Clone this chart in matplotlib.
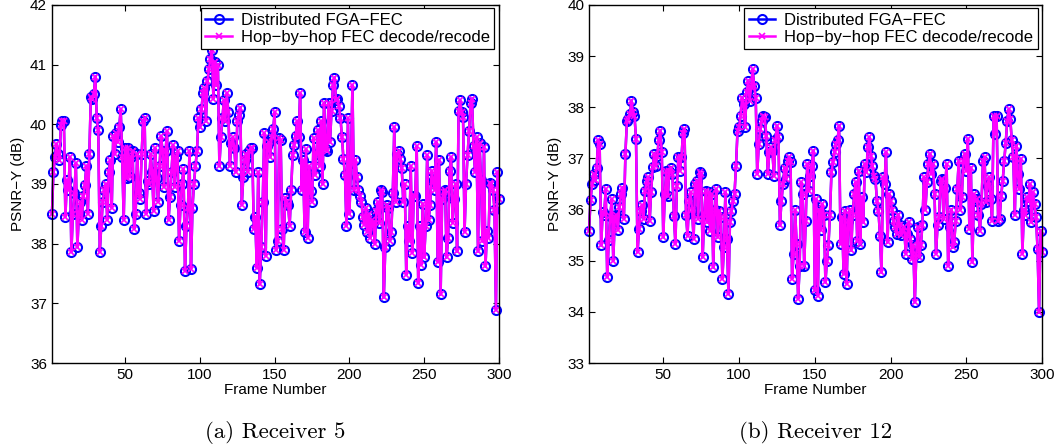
import numpy as np
import matplotlib
matplotlib.use('Agg')
import matplotlib.pyplot as plt

# PSNR-Y per frame, receiver 5
rx5_psnr = [
    38.5, 39.2, 39.45, 39.67, 39.5, 39.4, 39.98, 40.05, 40.05, 38.45,
    39.06, 38.9, 39.45, 37.86, 38.5, 38.85, 39.35, 37.94, 38.5, 38.7,
    38.4, 38.8, 38.98, 39.3, 38.5, 39.5, 40.45, 40.43, 40.5, 40.8,
    40.1, 39.9, 37.86, 38.3, 38.7, 38.9, 39.0, 38.4, 39.2, 39.4,
    38.6, 39.8, 39.5, 39.85, 39.7, 39.95, 40.25, 39.45, 38.4, 39.6,
    39.1, 39.6, 39.12, 39.45, 39.55, 38.25, 38.5, 39.5, 38.85, 38.75,
    39.5, 40.05, 40.1, 38.5, 39.05,
    39.0, 39.5, 39.2, 38.55, 39.6, 39.1, 38.7, 39.3,
    39.8, 39.55, 38.95, 39.55, 39.88, 38.4, 38.78, 39.2, 39.65, 38.95,
    39.45, 39.55, 38.05, 38.65, 39.0, 39.25, 37.55, 38.3, 38.6, 39.55,
    37.58, 38.6, 39.0, 39.3, 39.55, 40.1, 39.95, 40.25, 40.52, 40.6,
    40.05, 40.72, 40.92, 41.1, 41.25, 40.43, 41.05, 40.65, 41.0, 39.3,
    39.78, 40.1, 40.4, 40.05, 40.52, 40.2, 39.3, 39.68, 39.78, 39.6,
    39.2, 40.05, 40.15, 40.28, 38.65, 39.12,
    39.4, 39.5, 39.2, 39.55, 39.6, 39.6, 38.25, 38.45, 37.6, 39.2,
    37.32, 37.95, 38.7, 39.85, 37.8, 39.63, 39.7, 39.45, 39.78, 39.92,
    40.2, 37.9, 38.05, 39.77, 39.73, 38.25, 37.9, 38.77, 38.7, 38.65,
    38.3, 38.9, 39.48, 39.65, 39.8, 40.05, 39.78, 40.52, 38.9, 39.4,
    38.2, 39.58, 38.1, 39.3, 38.88, 38.7, 39.77, 39.15, 39.5, 39.9,
    39.3, 40.05, 39.0, 40.35, 39.58, 39.55, 40.35, 39.7, 40.22, 40.65,
    40.78, 40.4, 40.43, 40.3, 40.1, 39.78, 39.42, 39.15, 38.3, 40.1,
    38.5, 39.35, 40.65, 38.9, 39.4,
    39.12, 38.9, 38.8, 38.7, 38.45, 38.32, 38.6, 38.2, 38.5, 38.1,
    38.4, 38.35, 38.0, 38.55, 38.7, 38.35, 38.9, 38.87, 37.1, 37.95,
    38.65, 38.6, 38.05, 38.2, 38.85, 39.95, 38.7, 39.5, 39.55, 39.42,
    39.27, 38.7, 39.0, 37.48, 38.3, 38.05, 39.3, 37.85, 38.8, 38.8,
    39.63, 37.34, 38.3, 37.65, 38.67, 37.77, 38.3, 39.48, 38.4, 38.65,
    39.22, 39.05, 38.9, 39.7, 37.7, 39.4, 37.15, 38.75, 38.87, 38.9,
    37.77, 38.1, 39.22, 39.45, 38.35, 38.75, 39.0, 37.87, 40.22, 40.4,
    40.2, 40.13, 38.2, 39.0, 39.48, 39.88, 40.35, 40.43, 39.63, 39.2,
    39.78, 37.87,
    39.68, 39.07, 38.04, 39.62, 37.62, 38.22, 38.1, 39.02, 39.0, 38.9,
    38.57, 36.89, 39.2, 38.75,
]

# PSNR-Y per frame, receiver 12
rx12_psnr = [
    35.59, 36.19, 36.5, 36.7, 36.57, 36.82, 37.35, 37.28, 35.3, 35.95,
    35.9, 36.4, 34.68, 35.4, 35.88, 36.2, 35.0, 35.85, 35.9, 35.6,
    36.05, 36.3, 36.43, 35.82, 37.09, 37.74, 37.77, 37.87, 38.13, 37.9,
    37.83, 37.38, 35.17, 35.62, 35.98, 36.08, 35.82, 36.37, 36.56, 36.63,
    35.78, 36.34, 36.83, 37.09, 36.86, 37.05, 37.35, 37.54, 37.12, 35.46,
    36.3, 36.76, 36.27, 36.76, 36.82, 36.7, 35.88, 35.33, 36.47, 37.02,
    36.76, 37.02, 37.5, 37.57, 35.9, 35.49, 36.17, 36.34, 36.0, 35.43,
    36.5,
    36.56, 35.82, 36.73, 36.7, 35.07, 35.9, 36.37, 35.75, 36.34, 35.59,
    36.3, 34.87, 36.0, 36.4, 35.46, 35.98, 35.85, 34.65, 35.26, 36.34,
    35.43, 34.35, 35.75, 35.98, 36.17, 36.3, 36.86, 37.54, 37.61, 37.83,
    38.19, 38.06, 37.61, 38.29, 38.52, 38.13, 38.39, 38.74, 38.42, 38.19,
    36.7, 37.28, 37.57, 37.74, 37.83, 37.8, 37.44, 36.7, 37.12, 37.22,
    37.15, 36.66, 37.35, 37.64, 37.41, 35.69, 36.17, 36.5, 36.82, 36.6,
    36.95, 37.02, 36.92, 34.65, 35.14, 35.99, 35.33, 34.26, 34.9, 36.53,
    36.3, 34.9, 35.78, 36.89, 36.37, 36.66, 36.86, 37.15, 34.42, 36.2,
    34.32, 36.0, 35.6, 36.1, 35.9, 34.58, 35.0, 35.3, 35.9, 36.73,
    36.92, 37.12, 37.28, 37.35, 37.64, 35.33, 35.85, 34.74, 35.98, 34.55,
    35.78, 36.0, 35.2, 35.9, 36.3, 36.53, 35.39, 36.76, 35.33, 36.24,
    35.75, 36.89, 36.73, 37.22, 37.41, 37.05, 36.86, 36.66, 36.6, 36.17,
    35.98, 35.49, 34.77, 36.63, 36.5, 37.12, 35.36, 36.3, 36.17, 36.0,
    35.78, 35.65, 35.52, 35.9, 35.7, 35.5, 35.59, 35.65, 35.14, 35.52,
    35.75, 35.43, 35.04, 35.3, 34.19,
    35.14, 35.65, 35.07, 35.3, 35.69, 36.63, 36.0, 36.53, 36.89, 37.09,
    36.7, 36.89, 36.3, 35.14, 35.69, 35.85, 36.56, 36.6, 35.82, 36.43,
    36.89, 34.9, 35.65, 36.0, 35.26, 35.36, 35.78, 36.4, 36.95, 36.0,
    36.24, 36.95, 37.09, 36.76, 37.38, 35.62, 36.82, 34.97, 36.3, 36.17,
    36.2, 35.9, 35.59, 36.11, 36.95, 37.02, 36.14, 36.47, 36.63, 36.2,
    35.78, 37.83, 37.48, 37.83, 35.78, 35.82, 36.27, 36.56, 36.95, 37.3,
    37.74, 37.96, 37.77, 37.35, 37.02, 35.9, 37.25, 36.7, 36.4, 36.99,
    35.14, 36.0, 35.9, 36.24, 36.17, 36.5, 35.75, 36.34, 36.1, 35.85,
    35.23, 33.99, 35.59, 35.17,
]

# hop-by-hop scheme gives the same PSNR as the distributed one
rx5_hop = list(rx5_psnr)
rx12_hop = list(rx12_psnr)

panels = [
    (rx5_psnr, rx5_hop, (36, 42), [36, 37, 38, 39, 40, 41, 42], '(a) Receiver 5'),
    (rx12_psnr, rx12_hop, (33, 40), [33, 34, 35, 36, 37, 38, 39, 40], '(b) Receiver 12'),
]

plt.rcParams['font.family'] = ['Liberation Sans', 'DejaVu Sans']

fig = plt.figure(figsize=(10.6, 4.46), dpi=100)
boxes = [[0.049, 0.186, 0.4217, 0.803], [0.5557, 0.186, 0.4274, 0.803]]

for box, (fga, hop, ylim, yticks, caption) in zip(boxes, panels):
    ax = fig.add_axes(box)
    frames = np.arange(1, len(fga) + 1)
    ax.plot(frames, fga, color='blue', lw=1.8, marker='o', ms=6.5,
            mfc='none', mec='blue', mew=1.5, label='Distributed FGA\u2212FEC', clip_on=False)
    ax.plot(frames, hop, color='magenta', lw=1.8, marker='x', ms=4,
            mew=1.2, label='Hop\u2212by\u2212hop FEC decode/recode', clip_on=False)
    ax.set_xlim(1, 300)
    ax.set_ylim(*ylim)
    ax.set_xticks([50, 100, 150, 200, 250, 300])
    ax.set_yticks(yticks)
    ax.tick_params(direction='in', top=True, right=True, labelsize=11, length=4, width=0.8)
    for s in ax.spines.values():
        s.set_linewidth(1.0)
    ax.set_xlabel('Frame Number', fontsize=11, labelpad=1)
    ax.set_ylabel('PSNR\u2212Y (dB)', fontsize=11, labelpad=4)
    leg = ax.legend(loc='upper right', bbox_to_anchor=(0.99, 0.99), fontsize=12,
                    fancybox=False, framealpha=1, edgecolor='black', borderpad=0.25,
                    handlelength=1.6, handletextpad=0.55, labelspacing=0.15,
                    borderaxespad=0.0)
    leg.get_frame().set_linewidth(0.9)
    fig.text(box[0] + box[2] / 2, 0.031, caption, ha='center', va='center',
             fontsize=16.5, family='cmr10')

fig.savefig('out.png', dpi=100)
